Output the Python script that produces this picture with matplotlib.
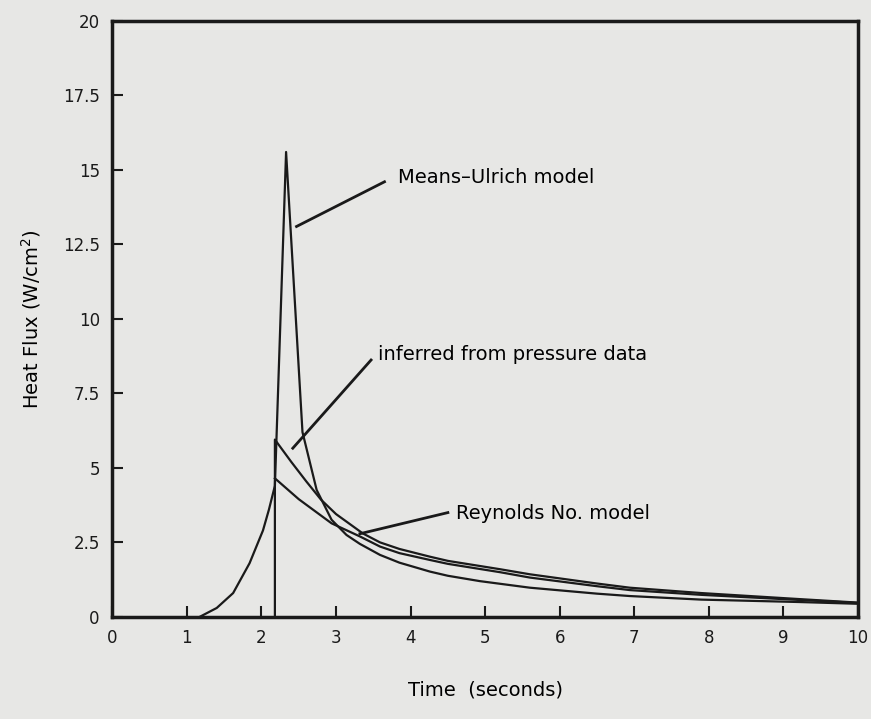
import matplotlib
matplotlib.use("Agg")
import matplotlib.pyplot as plt

# Means-Ulrich model (rise, spike, decay)
t_mu = [1.17, 1.4, 1.62, 1.84, 2.02, 2.1, 2.18, 2.33, 2.55, 2.74, 2.94, 3.14, 3.32, 3.59, 3.85,
        4.26, 4.5, 4.93, 5.6, 6.5, 6.94, 7.9, 9.2, 10.0]
q_mu = [0.0, 0.3, 0.8, 1.8, 2.9, 3.6, 4.4, 15.6, 6.2, 4.26, 3.26, 2.75, 2.45, 2.08, 1.82,
        1.52, 1.38, 1.2, 0.98, 0.78, 0.7, 0.58, 0.5, 0.44]

# inferred from pressure data
t_inf = [2.18, 2.18, 2.4, 2.6, 2.8, 3.0, 3.36, 3.59, 3.85, 4.26, 4.5, 5.2, 5.6, 6.5, 6.94, 7.9, 9.2, 10.0]
q_inf = [0.0, 5.95, 5.2, 4.55, 3.93, 3.45, 2.8, 2.5, 2.28, 2.02, 1.88, 1.6, 1.43, 1.12, 0.98, 0.8, 0.6, 0.48]

# Reynolds No. model
t_re = [2.18, 2.5, 2.94, 3.32, 3.59, 3.85, 4.26, 4.5, 5.2, 5.6, 6.5, 6.94, 7.9, 9.2, 10.0]
q_re = [4.65, 3.95, 3.14, 2.7, 2.36, 2.14, 1.91, 1.78, 1.5, 1.32, 1.03, 0.9, 0.74, 0.57, 0.47]

xticks = [0, 1, 2, 3, 4, 5, 6, 7, 8, 9, 10]
yticks = [0, 2.5, 5, 7.5, 10, 12.5, 15, 17.5, 20]
ylabels = ["0", "2.5", "5", "7.5", "10", "12.5", "15", "17.5", "20"]

bg = "#e7e7e5"
fig = plt.figure(figsize=(8.71, 7.19), dpi=100, facecolor=bg)
ax = fig.add_axes([0.129, 0.142, 0.856, 0.829], facecolor=bg)

for t, q in [(t_mu, q_mu), (t_inf, q_inf), (t_re, q_re)]:
    ax.plot(t, q, color="#1a1a1a", lw=1.6, solid_joinstyle="round")

ax.set_xlim(0, 10)
ax.set_ylim(0, 20)
ax.set_xticks(xticks)
ax.set_yticks(yticks)
ax.set_yticklabels(ylabels)
ax.tick_params(direction="in", length=8, width=1.5, labelsize=12, pad=9, colors="#1a1a1a")
for s in ax.spines.values():
    s.set_linewidth(2.5)
    s.set_color("#1a1a1a")

ax.set_xlabel("Time  (seconds)", fontsize=14, labelpad=24)
ax.set_ylabel("Heat Flux (W/cm$^2$)", fontsize=14, labelpad=14)

# labels with leader lines
ax.plot([2.47, 3.65], [13.1, 14.6], color="#1a1a1a", lw=2)
ax.text(3.83, 14.73, "Means\u2013Ulrich model", fontsize=14, va="center")
ax.plot([2.42, 3.47], [5.66, 8.62], color="#1a1a1a", lw=2)
ax.text(3.56, 8.8, "inferred from pressure data", fontsize=14, va="center")
ax.plot([3.32, 4.50], [2.79, 3.5], color="#1a1a1a", lw=2)
ax.text(4.61, 3.48, "Reynolds No. model", fontsize=14, va="center")

fig.savefig("out.png", dpi=100, facecolor=bg)
